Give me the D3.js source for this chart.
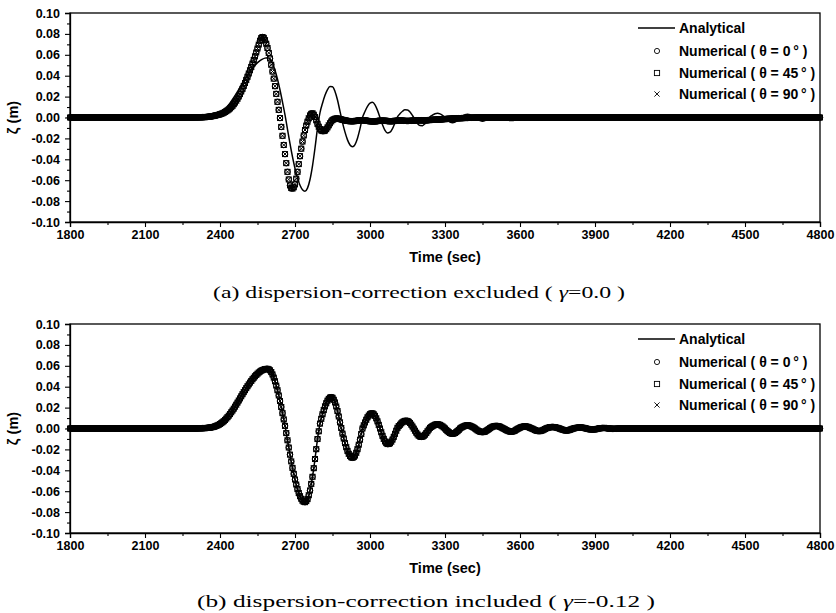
<!DOCTYPE html>
<html><head><meta charset="utf-8">
<script src="https://cdn.jsdelivr.net/npm/d3@7"></script>
<style>body{margin:0;background:#fff}svg{display:block}</style>
</head><body>
<svg id="c" width="836" height="613"></svg>
<script>
// sample times (sec): analytical every 10 s, numerical output every 5 s
const lineTimes = d3.range(1800, 4801, 10);
const numTimes = d3.range(1800, 4801, 5);

// Analytical free-surface elevation (m), 10 values per 100 s
const analytical = [
  0,0,0,0,0,0,0,0,0,0,                                   // 1800
  0,0,0,0,0,0,0,0,0,0,                                   // 1900
  0,0,0,0,0,0,0,0,0,0,                                   // 2000
  0,0,0,0,0,0,0,0,0,0,                                   // 2100
  0,0,0,0,0,0,0,0,0,0,                                   // 2200
  0,0.0001,0.0002,0.0003,0.0004,0.0006,0.0009,0.0013,0.0020,0.0030,            // 2300
  0.0043,0.0060,0.0082,0.0108,0.0138,0.0172,0.0209,0.0248,0.0288,0.0328,       // 2400
  0.0367,0.0404,0.0439,0.0471,0.0500,0.0525,0.0545,0.0559,0.0568,0.0571,       // 2500
  0.0557,0.0517,0.0452,0.0366,0.0263,0.0147,0.0025,-0.0113,-0.0250,-0.0377,    // 2600
  -0.0488,-0.0580,-0.0648,-0.0691,-0.0705,-0.0676,-0.0593,-0.0462,-0.0292,-0.0101, // 2700
  0.0047,0.0136,0.0212,0.0267,0.0296,0.0294,0.0249,0.0167,0.0059,-0.0049,      // 2800
  -0.0140,-0.0214,-0.0263,-0.0280,-0.0259,-0.0198,-0.0107,0.0000,0.0058,0.0107,// 2900
  0.0137,0.0145,0.0121,0.0068,0.0000,-0.0070,-0.0124,-0.0149,-0.0141,-0.0106,  // 3000
  -0.0051,0.0007,0.0036,0.0060,0.0073,0.0072,0.0053,0.0019,-0.0021,-0.0057,    // 3100
  -0.0077,-0.0078,-0.0059,-0.0027,0.0006,0.0023,0.0036,0.0040,0.0035,0.0020,   // 3200
  0.0000,-0.0025,-0.0043,-0.0050,-0.0043,-0.0025,0.0000,0.0015,0.0026,0.0030,  // 3300
  0.0026,0.0015,0.0000,-0.0018,-0.0030,-0.0035,-0.0030,-0.0014,0.0003,0.0017,  // 3400
  0.0024,0.0024,0.0017,0.0004,-0.0008,-0.0021,-0.0029,-0.0029,-0.0020,-0.0004, // 3500
  0.0008,0.0017,0.0020,0.0017,0.0007,-0.0003,-0.0015,-0.0023,-0.0025,-0.0017,  // 3600
  -0.0005,0.0006,0.0012,0.0015,0.0012,0.0006,-0.0002,-0.0011,-0.0018,-0.0019,  // 3700
  -0.0012,-0.0003,0.0004,0.0008,0.0010,0.0008,0.0003,-0.0003,-0.0008,-0.0010,  // 3800
  -0.0008,-0.0003,0.0002,0.0005,0.0005,0.0002,-0.0001,-0.0003,-0.0003,-0.0001, // 3900
  0,0,0,0,0,0,0,0,0,0,                                   // 4000
  0,0,0,0,0,0,0,0,0,0,                                   // 4100
  0,0,0,0,0,0,0,0,0,0,                                   // 4200
  0,0,0,0,0,0,0,0,0,0,                                   // 4300
  0,0,0,0,0,0,0,0,0,0,                                   // 4400
  0,0,0,0,0,0,0,0,0,0,                                   // 4500
  0,0,0,0,0,0,0,0,0,0,                                   // 4600
  0,0,0,0,0,0,0,0,0,0,                                   // 4700
  0                                                      // 4800
];

// Numerical, dispersion-correction excluded (gamma = 0.0); theta = 0, 45, 90 deg coincide. 20 values per 100 s
const numericalExcluded = [
  0,0,0,0,0,0,0,0,0,0,0,0,0,0,0,0,0,0,0,0,               // 1800
  0,0,0,0,0,0,0,0,0,0,0,0,0,0,0,0,0,0,0,0,               // 1900
  0,0,0,0,0,0,0,0,0,0,0,0,0,0,0,0,0,0,0,0,               // 2000
  0,0,0,0,0,0,0,0,0,0,0,0,0,0,0,0,0,0,0,0,               // 2100
  0,0,0,0,0,0,0,0,0,0,0,0,0,0,0,0,0,0,0,0,               // 2200
  0.0001,0.0001,0.0001,0.0001,0.0002,0.0002,0.0003,0.0003,0.0004,0.0005,
  0.0006,0.0007,0.0009,0.0011,0.0013,0.0015,0.0018,0.0021,0.0024,0.0027,       // 2300
  0.0031,0.0035,0.0040,0.0046,0.0053,0.0060,0.0068,0.0077,0.0087,0.0099,
  0.0112,0.0127,0.0143,0.0161,0.0180,0.0201,0.0224,0.0249,0.0275,0.0302,       // 2400
  0.0330,0.0360,0.0390,0.0421,0.0452,0.0484,0.0516,0.0550,0.0585,0.0622,
  0.0660,0.0698,0.0735,0.0760,0.0770,0.0762,0.0740,0.0706,0.0665,0.0618,       // 2500
  0.0565,0.0505,0.0440,0.0372,0.0300,0.0226,0.0150,0.0073,-0.0005,-0.0090,
  -0.0175,-0.0263,-0.0350,-0.0437,-0.0520,-0.0593,-0.0650,-0.0675,-0.0680,-0.0668, // 2600
  -0.0640,-0.0585,-0.0520,-0.0446,-0.0370,-0.0298,-0.0230,-0.0172,-0.0120,-0.0077,
  -0.0040,-0.0008,0.0020,0.0035,0.0040,0.0027,0.0005,-0.0027,-0.0060,-0.0088,  // 2700
  -0.0110,-0.0124,-0.0130,-0.0130,-0.0125,-0.0112,-0.0095,-0.0075,-0.0055,-0.0038,
  -0.0025,-0.0017,-0.0012,-0.0010,-0.0010,-0.0012,-0.0015,-0.0018,-0.0022,-0.0025, // 2800
  -0.0028,-0.0030,-0.0032,-0.0034,-0.0035,-0.0036,-0.0036,-0.0035,-0.0034,-0.0032,
  -0.0030,-0.0028,-0.0027,-0.0026,-0.0026,-0.0027,-0.0028,-0.0030,-0.0032,-0.0034, // 2900
  -0.0036,-0.0037,-0.0038,-0.0038,-0.0037,-0.0036,-0.0034,-0.0032,-0.0031,-0.0030,
  -0.0030,-0.0030,-0.0031,-0.0032,-0.0034,-0.0035,-0.0036,-0.0036,-0.0035,-0.0034, // 3000
  -0.0032,-0.0031,-0.0030,-0.0029,-0.0029,-0.0029,-0.0030,-0.0031,-0.0032,-0.0033,
  -0.0033,-0.0033,-0.0032,-0.0031,-0.0030,-0.0029,-0.0028,-0.0027,-0.0027,-0.0027, // 3100
  -0.0027,-0.0027,-0.0028,-0.0028,-0.0028,-0.0027,-0.0026,-0.0025,-0.0024,-0.0023,
  -0.0022,-0.0021,-0.0021,-0.0020,-0.0020,-0.0019,-0.0019,-0.0018,-0.0017,-0.0016, // 3200
  -0.0015,-0.0014,-0.0013,-0.0012,-0.0012,-0.0011,-0.0010,-0.0009,-0.0009,-0.0008,
  -0.0008,-0.0007,-0.0007,-0.0006,-0.0006,-0.0005,-0.0005,-0.0004,-0.0004,-0.0003, // 3300
  -0.0003,-0.0002,-0.0002,-0.0001,-0.0001,0,0,0,0,0,0,0,0,0,0,0,0,0,0,0,       // 3400
  0,0,0,0,0,0,0,0,0,0,0,0,0,0,0,0,0,0,0,0,               // 3500
  0,0,0,0,0,0,0,0,0,0,0,0,0,0,0,0,0,0,0,0,               // 3600
  0,0,0,0,0,0,0,0,0,0,0,0,0,0,0,0,0,0,0,0,               // 3700
  0,0,0,0,0,0,0,0,0,0,0,0,0,0,0,0,0,0,0,0,               // 3800
  0,0,0,0,0,0,0,0,0,0,0,0,0,0,0,0,0,0,0,0,               // 3900
  0,0,0,0,0,0,0,0,0,0,0,0,0,0,0,0,0,0,0,0,               // 4000
  0,0,0,0,0,0,0,0,0,0,0,0,0,0,0,0,0,0,0,0,               // 4100
  0,0,0,0,0,0,0,0,0,0,0,0,0,0,0,0,0,0,0,0,               // 4200
  0,0,0,0,0,0,0,0,0,0,0,0,0,0,0,0,0,0,0,0,               // 4300
  0,0,0,0,0,0,0,0,0,0,0,0,0,0,0,0,0,0,0,0,               // 4400
  0,0,0,0,0,0,0,0,0,0,0,0,0,0,0,0,0,0,0,0,               // 4500
  0,0,0,0,0,0,0,0,0,0,0,0,0,0,0,0,0,0,0,0,               // 4600
  0,0,0,0,0,0,0,0,0,0,0,0,0,0,0,0,0,0,0,0,               // 4700
  0                                                      // 4800
];

// Numerical, dispersion-correction included (gamma = -0.12); theta = 0, 45, 90 deg coincide. 20 values per 100 s
const numericalIncluded = [
  0,0,0,0,0,0,0,0,0,0,0,0,0,0,0,0,0,0,0,0,               // 1800
  0,0,0,0,0,0,0,0,0,0,0,0,0,0,0,0,0,0,0,0,               // 1900
  0,0,0,0,0,0,0,0,0,0,0,0,0,0,0,0,0,0,0,0,               // 2000
  0,0,0,0,0,0,0,0,0,0,0,0,0,0,0,0,0,0,0,0,               // 2100
  0,0,0,0,0,0,0,0,0,0,0,0,0,0,0,0,0,0,0,0,               // 2200
  0,0,0.0001,0.0001,0.0002,0.0002,0.0003,0.0003,0.0004,0.0005,
  0.0006,0.0007,0.0009,0.0011,0.0013,0.0016,0.0020,0.0025,0.0030,0.0036,       // 2300
  0.0043,0.0051,0.0060,0.0070,0.0082,0.0095,0.0108,0.0123,0.0138,0.0155,
  0.0172,0.0190,0.0209,0.0228,0.0248,0.0268,0.0288,0.0308,0.0328,0.0348,       // 2400
  0.0367,0.0386,0.0404,0.0422,0.0439,0.0455,0.0471,0.0486,0.0500,0.0513,
  0.0525,0.0536,0.0545,0.0553,0.0559,0.0564,0.0568,0.0570,0.0571,0.0566,       // 2500
  0.0557,0.0540,0.0517,0.0487,0.0452,0.0411,0.0366,0.0316,0.0263,0.0206,
  0.0147,0.0087,0.0025,-0.0044,-0.0113,-0.0182,-0.0250,-0.0315,-0.0377,-0.0434, // 2600
  -0.0488,-0.0536,-0.0580,-0.0617,-0.0648,-0.0672,-0.0691,-0.0701,-0.0705,-0.0695,
  -0.0676,-0.0639,-0.0593,-0.0530,-0.0462,-0.0380,-0.0292,-0.0198,-0.0101,-0.0027, // 2700
  0.0047,0.0093,0.0136,0.0176,0.0212,0.0242,0.0267,0.0284,0.0296,0.0299,
  0.0294,0.0275,0.0249,0.0211,0.0167,0.0115,0.0059,0.0005,-0.0049,-0.0096,     // 2800
  -0.0140,-0.0179,-0.0214,-0.0242,-0.0263,-0.0275,-0.0280,-0.0273,-0.0259,-0.0232,
  -0.0198,-0.0155,-0.0107,-0.0053,0.0000,0.0030,0.0058,0.0084,0.0107,0.0124,   // 2900
  0.0137,0.0144,0.0145,0.0136,0.0121,0.0097,0.0068,0.0035,0.0000,-0.0036,
  -0.0070,-0.0099,-0.0124,-0.0140,-0.0149,-0.0148,-0.0141,-0.0126,-0.0106,-0.0080, // 3000
  -0.0051,-0.0021,0.0007,0.0023,0.0036,0.0049,0.0060,0.0068,0.0073,0.0074,
  0.0072,0.0064,0.0053,0.0037,0.0019,-0.0001,-0.0021,-0.0040,-0.0057,-0.0069,  // 3100
  -0.0077,-0.0080,-0.0078,-0.0070,-0.0059,-0.0044,-0.0027,-0.0010,0.0006,0.0015,
  0.0023,0.0030,0.0036,0.0039,0.0040,0.0038,0.0035,0.0028,0.0020,0.0010,       // 3200
  0.0000,-0.0013,-0.0025,-0.0035,-0.0043,-0.0048,-0.0050,-0.0048,-0.0043,-0.0035,
  -0.0025,-0.0013,0.0000,0.0008,0.0015,0.0021,0.0026,0.0029,0.0030,0.0029,     // 3300
  0.0026,0.0021,0.0015,0.0008,0.0000,-0.0009,-0.0018,-0.0025,-0.0030,-0.0033,
  -0.0035,-0.0033,-0.0030,-0.0022,-0.0014,-0.0006,0.0003,0.0010,0.0017,0.0021, // 3400
  0.0024,0.0025,0.0024,0.0021,0.0017,0.0011,0.0004,-0.0002,-0.0008,-0.0015,
  -0.0021,-0.0026,-0.0029,-0.0030,-0.0029,-0.0025,-0.0020,-0.0012,-0.0004,0.0002, // 3500
  0.0008,0.0013,0.0017,0.0019,0.0020,0.0019,0.0017,0.0012,0.0007,0.0002,
  -0.0003,-0.0009,-0.0015,-0.0020,-0.0023,-0.0025,-0.0025,-0.0022,-0.0017,-0.0011, // 3600
  -0.0005,0.0001,0.0006,0.0009,0.0012,0.0014,0.0015,0.0014,0.0012,0.0009,
  0.0006,0.0002,-0.0002,-0.0007,-0.0011,-0.0015,-0.0018,-0.0019,-0.0019,-0.0016, // 3700
  -0.0012,-0.0008,-0.0003,0.0001,0.0004,0.0006,0.0008,0.0009,0.0010,0.0009,
  0.0008,0.0006,0.0003,0.0000,-0.0003,-0.0006,-0.0008,-0.0009,-0.0010,-0.0009, // 3800
  -0.0008,-0.0006,-0.0003,0.0000,0.0002,0.0004,0.0005,0.0005,0.0005,0.0004,
  0.0002,0.0000,-0.0001,-0.0002,-0.0003,-0.0003,-0.0003,-0.0002,-0.0001,0,     // 3900
  0,0,0,0,0,0,0,0,0,0,0,0,0,0,0,0,0,0,0,0,               // 4000
  0,0,0,0,0,0,0,0,0,0,0,0,0,0,0,0,0,0,0,0,               // 4100
  0,0,0,0,0,0,0,0,0,0,0,0,0,0,0,0,0,0,0,0,               // 4200
  0,0,0,0,0,0,0,0,0,0,0,0,0,0,0,0,0,0,0,0,               // 4300
  0,0,0,0,0,0,0,0,0,0,0,0,0,0,0,0,0,0,0,0,               // 4400
  0,0,0,0,0,0,0,0,0,0,0,0,0,0,0,0,0,0,0,0,               // 4500
  0,0,0,0,0,0,0,0,0,0,0,0,0,0,0,0,0,0,0,0,               // 4600
  0,0,0,0,0,0,0,0,0,0,0,0,0,0,0,0,0,0,0,0,               // 4700
  0                                                      // 4800
];

const xTicks = [1800, 2100, 2400, 2700, 3000, 3300, 3600, 3900, 4200, 4500, 4800];
const yTicks = [-0.10, -0.08, -0.06, -0.04, -0.02, 0.00, 0.02, 0.04, 0.06, 0.08, 0.10];
const legendLabels = ["Analytical", "Numerical ( \u03b8 = 0\u2009\u00b0 )", "Numerical ( \u03b8 = 45\u2009\u00b0 )", "Numerical ( \u03b8 = 90\u2009\u00b0 )"];
const captionsPrefix = ["(a) dispersion-correction excluded ( ", "(b) dispersion-correction included ( "];
const captionsGamma = ["\u03b3", "\u03b3"];
const captionsValue = ["=0.0 )", "=-0.12 )"];
const xTitle = "Time (sec)";
const yTitle = "\u03b6 (m)";

const svg = d3.select("#c");
const FONT = "'Liberation Sans', Arial, sans-serif";
const X0 = 70, X1 = 820;

const panels = [
  {top: 13, bottom: 222, num: numericalExcluded, cap: 0, capY: 298, capX0: 213, capX1: 625},
  {top: 324, bottom: 533, num: numericalIncluded, cap: 1, capY: 607, capX0: 197, capX1: 655}
];

const x = d3.scaleLinear().domain([1800, 4800]).range([X0, X1]);
const minorX = d3.range(0, xTicks.length - 1).map(i => (xTicks[i] + xTicks[i + 1]) / 2);
const minorY = d3.range(0, yTicks.length - 1).map(i => (yTicks[i] + yTicks[i + 1]) / 2);

function marker(g, type, cx, cy, s) {
  if (type === 0) {
    g.append("circle").attr("cx", cx).attr("cy", cy).attr("r", s);
  } else if (type === 1) {
    g.append("rect").attr("x", cx - s).attr("y", cy - s).attr("width", 2 * s).attr("height", 2 * s);
  } else {
    g.append("path").attr("d", `M${cx - s},${cy - s}L${cx + s},${cy + s}M${cx - s},${cy + s}L${cx + s},${cy - s}`);
  }
}

panels.forEach(p => {
  const y = d3.scaleLinear().domain([-0.1, 0.1]).range([p.bottom, p.top]);
  const g = svg.append("g");

  // numerical markers (three overlapping series)
  const mg = g.append("g").attr("fill", "none").attr("stroke", "#000").attr("stroke-width", 1);
  [0, 1, 2].forEach(type => {
    const sg = mg.append("g");
    numTimes.forEach((t, i) => marker(sg, type, x(t), y(p.num[i]), type === 0 ? 2.8 : 2.5));
  });

  // analytical line
  const line = d3.line().x((d, i) => x(lineTimes[i])).y(d => y(d)).curve(d3.curveMonotoneX);
  g.append("path").datum(analytical).attr("d", line)
    .attr("fill", "none").attr("stroke", "#000").attr("stroke-width", 1.5);

  // frame
  g.append("rect").attr("x", X0).attr("y", p.top).attr("width", X1 - X0).attr("height", p.bottom - p.top)
    .attr("fill", "none").attr("stroke", "#000").attr("stroke-width", 1.3);

  // axes
  const xa = g.append("g").attr("transform", `translate(0,${p.bottom})`)
    .call(d3.axisBottom(x).tickValues(xTicks).tickSize(5).tickPadding(3).tickFormat(d3.format("d")));
  g.append("g").attr("transform", `translate(0,${p.bottom})`)
    .call(d3.axisBottom(x).tickValues(minorX).tickSize(3).tickFormat(""))
    .call(a => a.select(".domain").remove());
  const ya = g.append("g").attr("transform", `translate(${X0},0)`)
    .call(d3.axisLeft(y).tickValues(yTicks).tickSize(5).tickPadding(5).tickFormat(d => d.toFixed(2)));
  g.append("g").attr("transform", `translate(${X0},0)`)
    .call(d3.axisLeft(y).tickValues(minorY).tickSize(3).tickFormat(""))
    .call(a => a.select(".domain").remove());
  g.selectAll(".domain").attr("stroke-width", 1.3);
  g.selectAll(".tick line").attr("stroke-width", 1.1);
  [xa, ya].forEach(a => a.selectAll("text").attr("font-family", FONT).attr("font-weight", "bold")
    .attr("font-size", 12.5).attr("fill", "#000"));

  // axis titles
  g.append("text").attr("x", (X0 + X1) / 2).attr("y", p.bottom + 40).attr("text-anchor", "middle")
    .attr("font-family", FONT).attr("font-weight", "bold").attr("font-size", 14.5).text(xTitle);
  g.append("text").attr("transform", `translate(13,${(p.top + p.bottom) / 2}) rotate(-90)`)
    .attr("text-anchor", "middle").attr("dominant-baseline", "central").attr("font-family", FONT)
    .attr("font-weight", "bold").attr("font-size", 14.5).text(yTitle);

  // legend
  const rows = [15, 38, 60, 81].map(d => p.top + d);
  const lg = g.append("g");
  lg.append("line").attr("x1", 638).attr("x2", 675).attr("y1", rows[0]).attr("y2", rows[0])
    .attr("stroke", "#000").attr("stroke-width", 1.5);
  const lm = lg.append("g").attr("fill", "none").attr("stroke", "#000").attr("stroke-width", 0.9);
  [0, 1, 2].forEach(type => marker(lm, type, 657, rows[type + 1], 2.6));
  legendLabels.forEach((lab, i) => {
    lg.append("text").attr("x", 679).attr("y", rows[i] + 5).attr("font-family", FONT)
      .attr("font-weight", "bold").attr("font-size", 14).text(lab);
  });

  // caption
  const ct = g.append("text").attr("x", p.capX0).attr("y", p.capY)
    .attr("font-family", "'Liberation Serif', 'DejaVu Serif', serif").attr("font-size", 17)
    .attr("textLength", p.capX1 - p.capX0).attr("lengthAdjust", "spacingAndGlyphs");
  ct.append("tspan").text(captionsPrefix[p.cap]);
  ct.append("tspan").attr("font-style", "italic").text(captionsGamma[p.cap]);
  ct.append("tspan").text(captionsValue[p.cap]);
});
</script>
</body></html>
